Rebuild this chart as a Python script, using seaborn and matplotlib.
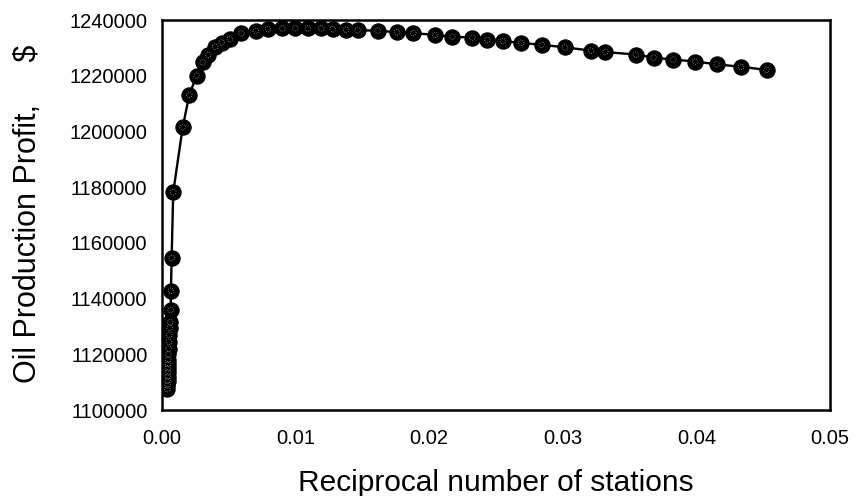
import matplotlib
matplotlib.use("Agg")
import matplotlib.pyplot as plt
import seaborn as sns
import pandas as pd
from matplotlib.ticker import FormatStrFormatter

reciprocal_stations = [
    0.00040, 0.00041, 0.00042, 0.00043, 0.00044, 0.00045, 0.00046, 0.00047,
    0.00048, 0.00050, 0.00052, 0.00055, 0.00058, 0.00062, 0.00065, 0.00067,
    0.00072, 0.00084, 0.00155, 0.00204, 0.00259, 0.00304, 0.00346, 0.00396,
    0.00446, 0.00508, 0.00595, 0.00702, 0.00793, 0.00901, 0.00998, 0.01092,
    0.01192, 0.01278, 0.01378, 0.01465, 0.01614, 0.01759, 0.01881, 0.02045,
    0.02174, 0.02323, 0.02435, 0.02552, 0.02689, 0.02841, 0.03015, 0.03211,
    0.03319, 0.03547, 0.03679, 0.03828, 0.03990, 0.04151, 0.04334, 0.04525,
]
profit = [
    1107500, 1109000, 1110500, 1112000, 1113500, 1115000, 1116500, 1118000,
    1120000, 1122000, 1124500, 1127000, 1129500, 1131500, 1135900, 1142800,
    1154500, 1178200, 1201500, 1213100, 1220000, 1224800, 1227500, 1230400,
    1231900, 1233100, 1235200, 1236100, 1236700, 1237000, 1237000, 1237000,
    1237000, 1236700, 1236500, 1236300, 1236200, 1235600, 1235300, 1234650,
    1234000, 1233700, 1232900, 1232400, 1231800, 1231100, 1230200, 1229000,
    1228500, 1227600, 1226500, 1225800, 1225100, 1224100, 1223200, 1222100,
]
x_ticks = [0.00, 0.01, 0.02, 0.03, 0.04, 0.05]
y_ticks = [1100000, 1120000, 1140000, 1160000, 1180000, 1200000, 1220000, 1240000]

df = pd.DataFrame({"x": reciprocal_stations, "y": profit})

sns.set_style("white")
plt.rcParams["font.family"] = ["Liberation Sans", "DejaVu Sans"]

fig = plt.figure(figsize=(8.55, 4.96), dpi=100)
ax = fig.add_axes([162 / 855, 1 - 410 / 496, 668 / 855, 390 / 496])

sns.lineplot(data=df, x="x", y="y", sort=False, estimator=None, ax=ax,
             color="black", linewidth=1.7, marker="o", markersize=11,
             markerfacecolor="black", markeredgecolor="black",
             markeredgewidth=0.8, zorder=3)
sns.scatterplot(data=df, x="x", y="y", ax=ax, marker="o", s=16,
                facecolor="none", edgecolor="#aaaaaa", linewidth=0.6,
                linestyle=":", zorder=4, legend=False)

ax.set_xlim(x_ticks[0], x_ticks[-1])
ax.set_ylim(y_ticks[0], y_ticks[-1])
ax.set_xticks(x_ticks)
ax.set_yticks(y_ticks)
ax.xaxis.set_major_formatter(FormatStrFormatter("%.2f"))
ax.yaxis.set_major_formatter(FormatStrFormatter("%d"))

for s in ax.spines.values():
    s.set_color("black")
    s.set_linewidth(1.8)

ax.tick_params(axis="both", direction="inout", length=7, width=1,
               color="black", labelcolor="black", labelsize=14.5)
ax.tick_params(axis="x", pad=10)
ax.tick_params(axis="y", pad=7)

ax.set_xlabel("Reciprocal number of stations", fontsize=21.5, color="black")
ax.set_ylabel("Oil Production Profit,     $", fontsize=22, color="black")
ax.xaxis.set_label_coords(0.5, -0.152)
ax.yaxis.set_label_coords(-0.178, 0.504)

fig.savefig("out.png", dpi=100)
